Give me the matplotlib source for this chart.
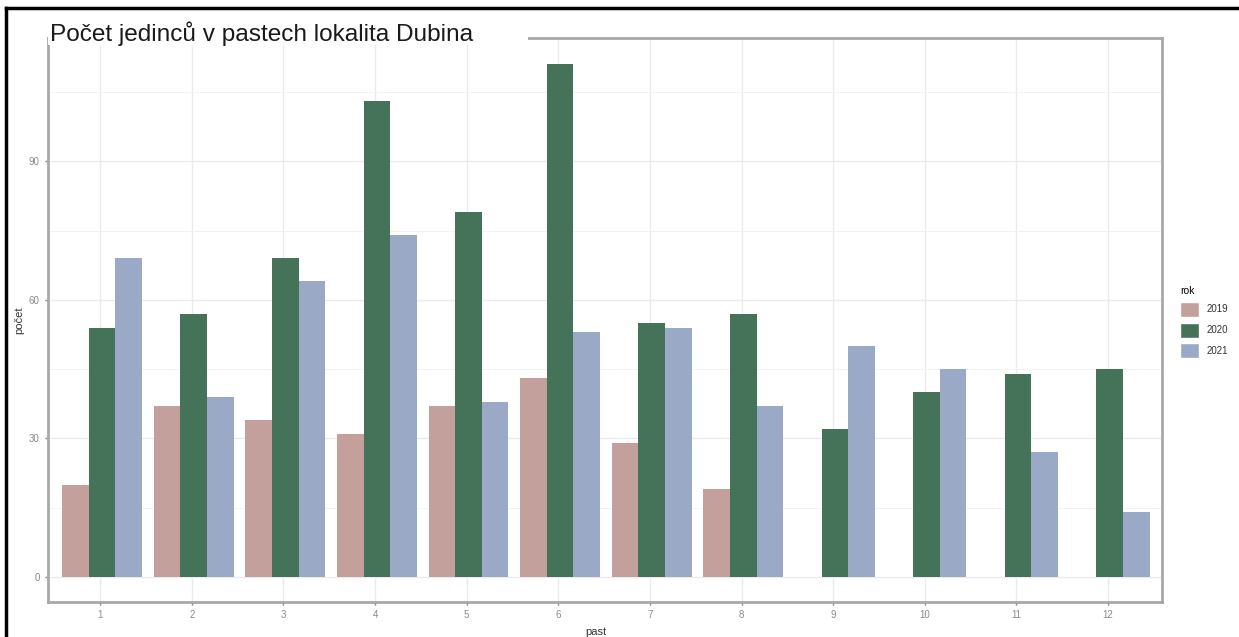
import matplotlib
matplotlib.use("Agg")
import matplotlib.pyplot as plt
import numpy as np
from matplotlib.lines import Line2D
from matplotlib.patches import Rectangle

plt.rcParams['font.family'] = ['Liberation Sans', 'DejaVu Sans']

past = list(range(1, 13))
years = ["2019", "2020", "2021"]
v2019 = [20, 37, 34, 31, 37, 43, 29, 19, None, None, None, None]
v2020 = [54, 57, 69, 103, 79, 111, 55, 57, 32, 40, 44, 45]
v2021 = [69, 39, 64, 74, 38, 53, 54, 37, 50, 45, 27, 14]
colors = ["#C4A09D", "#44735A", "#9AAAC6"]

W, H = 1239, 637
fig = plt.figure(figsize=(W / 100, H / 100), dpi=100)
ax = fig.add_axes([48 / W, 1 - 602 / H, (1162 - 48) / W, (602 - 38) / H])

bw = 0.29
for i, (vals, c) in enumerate(zip([v2019, v2020, v2021], colors)):
    xs = [p + (i - 1) * bw + 0.02 for p, v in zip(past, vals) if v is not None]
    hs = [v for v in vals if v is not None]
    ax.bar(xs, hs, width=bw, color=c, edgecolor="none", zorder=3, label=years[i])

ax.set_xlim(0.43, 12.59)
ax.set_ylim(-5.4, 116.7)
ax.set_xticks(past)
ax.set_xticklabels([str(p) for p in past])
ax.set_yticks([0, 30, 60, 90])
ax.set_yticks([15, 45, 75, 105], minor=True)
ax.grid(True, which="major", color="#EBEBEB", linewidth=1.0, zorder=0)
ax.grid(True, which="minor", axis="y", color="#F3F3F3", linewidth=0.7, zorder=0)
ax.tick_params(axis="both", which="major", colors="#7F7F7F", labelcolor="#8A8A8A",
               labelsize=7, length=2.5, width=1)
ax.tick_params(axis="y", which="minor", length=0)
for s in ax.spines.values():
    s.set_color("#A8A8A8")
    s.set_linewidth(2.0)

ax.set_xlabel("past", fontsize=8, color="#333333", labelpad=4)
ax.set_ylabel("počet", fontsize=8, color="#333333", labelpad=3)
ax.xaxis.set_label_coords((596 - 48) / (1162 - 48), -0.045)

# title with white box covering part of the top border
fig.patches.append(Rectangle((48 / W, 1 - 45 / H), (528 - 48) / W, 30 / H,
                             transform=fig.transFigure, facecolor="white",
                             edgecolor="none", zorder=5))
fig.text(50 / W, 1 - 34 / H, "Počet jedinců v pastech lokalita Dubina", fontsize=17.6,
         color="#1a1a1a", va="center", ha="left", zorder=6)

# legend
handles = [Rectangle((0, 0), 1, 1, facecolor=c, edgecolor="white") for c in colors]
leg = fig.legend(handles, years, title="rok", loc="upper left",
                 bbox_to_anchor=(1176 / W, 1 - 282 / H), frameon=False,
                 fontsize=7, title_fontsize=7.5, handlelength=2.0, handleheight=2.0,
                 labelspacing=0.6, handletextpad=0.7, borderaxespad=0)
leg._legend_box.align = "left"
for t in leg.get_texts():
    t.set_color("#333333")

# outer frame lines
fig.add_artist(Line2D([6 / W, 6 / W], [0, 1 - 8 / H], transform=fig.transFigure,
                      color="black", linewidth=2.5))
fig.add_artist(Line2D([6 / W, 1], [1 - 8 / H, 1 - 8 / H], transform=fig.transFigure,
                      color="black", linewidth=2.5))

fig.savefig("out.png", dpi=100)
